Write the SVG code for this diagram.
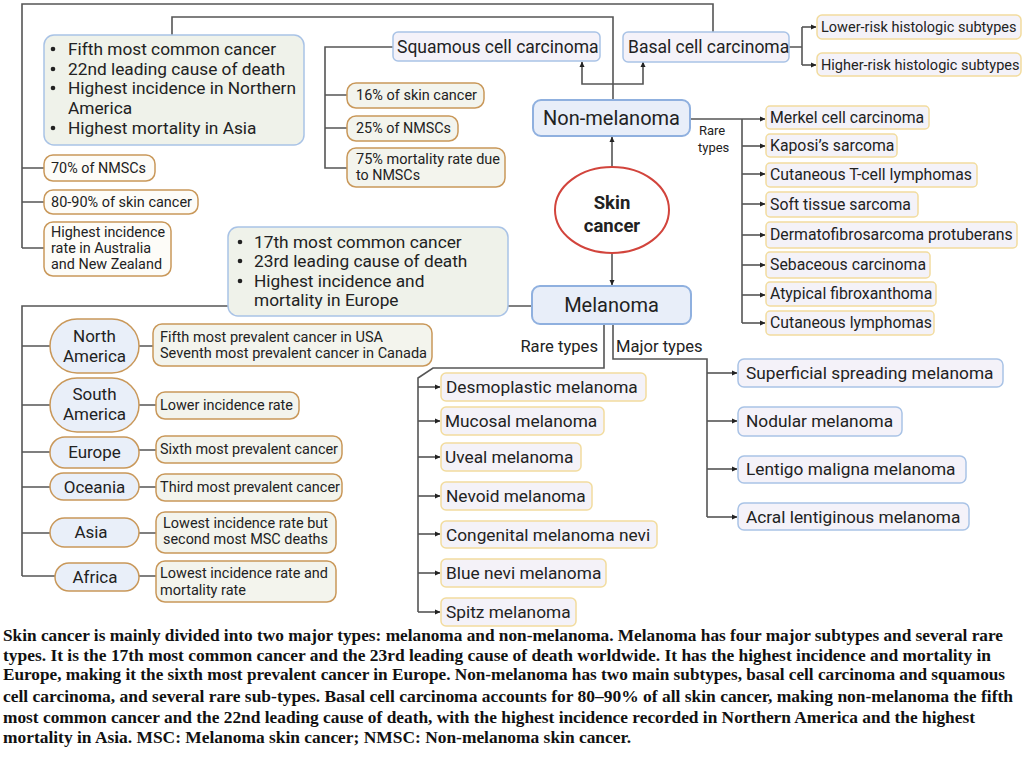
<svg xmlns="http://www.w3.org/2000/svg" width="1024" height="759" viewBox="0 0 1024 759">
<defs>
<marker id="ah" markerWidth="6" markerHeight="6" refX="5" refY="3" orient="auto" markerUnits="userSpaceOnUse">
<path d="M0,0.5 L5.5,3 L0,5.5 Z" fill="#222"/>
</marker>
<style>
.t{font-family:Roboto,"Liberation Sans",sans-serif;fill:#222}
.s{font-size:14px}
.cap{font-family:"Liberation Serif","Times New Roman",serif;font-weight:bold;font-size:16px;fill:#111}
.ln{fill:none;stroke:#555;stroke-width:1.6}
.ar{fill:none;stroke:#555;stroke-width:1.6;marker-end:url(#ah)}
.main{fill:#e8eef9;stroke:#8fb0df;stroke-width:2}
.blue{fill:#f4f2f9;stroke:#a9c3e6;stroke-width:1.5}
.bul{fill:#eff2ea;stroke:#a9c3e6;stroke-width:1.5}
.tan{fill:#fdfcf8;stroke:#c9985a;stroke-width:1.5}
.tang{fill:#f3f4ed;stroke:#c9985a;stroke-width:1.5}
.pill{fill:#e9eff9;stroke:#c9985a;stroke-width:1.5}
.yel{fill:#f4f2f8;stroke:#f2dc9e;stroke-width:1.5}
</style>
</defs>
<rect width="1024" height="759" fill="#ffffff"/>

<g id="connectors">
<path class="ln" d="M22,248 V4 H713 V32"/>
<path class="ln" d="M22,168 H44 M22,202 H44 M22,248 H44"/>
<path class="ln" d="M613,100 V17 H172 V35"/>
<path class="ln" d="M393,47 H325 V168 H347 M325,95 H347 M325,128 H347"/>
<path class="ar" d="M613,84 H582 V62"/>
<path class="ar" d="M613,84 H643 V62"/>
<path class="ar" d="M612,168 V137"/>
<path class="ln" d="M789,47 H802 M802,27 V65"/>
<path class="ar" d="M802,27 H816"/>
<path class="ar" d="M802,65 H816"/>
<path class="ar" d="M690,119 H765"/>
<path class="ln" d="M742,119 V323"/>
<path class="ar" d="M742,146 H765"/>
<path class="ar" d="M742,174 H765"/>
<path class="ar" d="M742,204 H765"/>
<path class="ar" d="M742,235 H765"/>
<path class="ar" d="M742,265 H765"/>
<path class="ar" d="M742,295 H765"/>
<path class="ar" d="M742,323 H765"/>
<path class="ar" d="M612,253 V285"/>
<path class="ln" d="M532,306 H22 V576"/>
<path class="ln" d="M22,346 H50 M22,405 H50 M22,452 H50 M22,487 H50 M22,533 H50 M22,576 H55"/>
<path class="ln" d="M139,346 H153 M139,405 H156 M139,450 H156 M139,487 H156 M139,533 H156 M139,576 H156"/>
<path class="ln" d="M604,324 V368 H433 L418,378 V612"/>
<path class="ar" d="M418,387 H440"/>
<path class="ar" d="M418,421 H440"/>
<path class="ar" d="M418,457 H440"/>
<path class="ar" d="M418,496 H440"/>
<path class="ar" d="M418,534 H440"/>
<path class="ar" d="M418,573 H440"/>
<path class="ar" d="M418,612 H440"/>
<path class="ln" d="M613,324 V359 H707 V517"/>
<path class="ar" d="M707,373 H737"/>
<path class="ar" d="M707,421 H737"/>
<path class="ar" d="M707,469 H737"/>
<path class="ar" d="M707,517 H737"/>
</g>

<g id="skin-cancer">
<ellipse cx="612" cy="210" rx="57" ry="43" fill="#ffffff" stroke="#d2443c" stroke-width="2"/>
<text class="t" x="612" y="209" text-anchor="middle" font-size="18.5" font-weight="bold">Skin</text>
<text class="t" x="612" y="232" text-anchor="middle" font-size="18.5" font-weight="bold">cancer</text>
</g>

<g id="non-melanoma">
<rect class="main" x="533" y="100" width="157" height="36" rx="8"/>
<text class="t" x="611.5" y="125" text-anchor="middle" font-size="20">Non-melanoma</text>
</g>
<text class="t" x="699" y="135" font-size="13">Rare</text>
<text class="t" x="698" y="152" font-size="13">types</text>

<g id="melanoma">
<rect class="main" x="532" y="286" width="159" height="38" rx="8"/>
<text class="t" x="611.5" y="312" text-anchor="middle" font-size="20">Melanoma</text>
</g>
<text class="t" x="598" y="352" text-anchor="end" font-size="16.6">Rare types</text>
<text class="t" x="616" y="352" font-size="16.6">Major types</text>

<g id="squamous">
<rect class="blue" x="393" y="32" width="207" height="29" rx="5"/>
<text class="t" x="397" y="53" font-size="17.5">Squamous cell carcinoma</text>
</g>
<g id="basal">
<rect class="blue" x="623" y="32" width="166" height="30" rx="5"/>
<text class="t" x="628" y="53" font-size="17.5">Basal cell carcinoma</text>
</g>
<g id="lower-risk">
<rect class="yel" x="817" y="15" width="204" height="24" rx="5"/>
<text class="t" x="821" y="32" font-size="14.5">Lower-risk histologic subtypes</text>
</g>
<g id="higher-risk">
<rect class="yel" x="817" y="53" width="204" height="23" rx="5"/>
<text class="t" x="821" y="69.5" font-size="14.5">Higher-risk histologic subtypes</text>
</g>

<g id="nm-facts">
<rect class="bul" x="44" y="35" width="260" height="110" rx="10"/>
<g class="t" font-size="17.3">
<circle cx="53" cy="49" r="2.3" fill="#222"/>
<text x="68" y="55">Fifth most common cancer</text>
<circle cx="53" cy="69" r="2.3" fill="#222"/>
<text x="68" y="75">22nd leading cause of death</text>
<circle cx="53" cy="88" r="2.3" fill="#222"/>
<text x="68" y="94">Highest incidence in Northern</text>
<text x="68" y="114">America</text>
<circle cx="53" cy="128" r="2.3" fill="#222"/>
<text x="68" y="134">Highest mortality in Asia</text>
</g>
</g>

<g id="bcc-70">
<rect class="tan" x="44" y="155" width="111" height="26" rx="9"/>
<text class="t s" x="51" y="173" textLength="95" lengthAdjust="spacingAndGlyphs">70% of NMSCs</text>
</g>
<g id="bcc-80">
<rect class="tan" x="44" y="190" width="154" height="24" rx="9"/>
<text class="t s" x="51" y="207" textLength="141" lengthAdjust="spacingAndGlyphs">80-90% of skin cancer</text>
</g>
<g id="bcc-aus">
<rect class="tan" x="44" y="222" width="127" height="54" rx="9"/>
<text class="t s" x="51" y="237" textLength="114" lengthAdjust="spacingAndGlyphs">Highest incidence</text>
<text class="t s" x="51" y="253" textLength="100" lengthAdjust="spacingAndGlyphs">rate in Australia</text>
<text class="t s" x="51" y="269" textLength="111" lengthAdjust="spacingAndGlyphs">and New Zealand</text>
</g>

<g id="scc-16">
<rect class="tang" x="347" y="83" width="137" height="25" rx="9"/>
<text class="t s" x="356" y="100" textLength="121" lengthAdjust="spacingAndGlyphs">16% of skin cancer</text>
</g>
<g id="scc-25">
<rect class="tang" x="347" y="116" width="111" height="25" rx="9"/>
<text class="t s" x="356" y="133" textLength="95" lengthAdjust="spacingAndGlyphs">25% of NMSCs</text>
</g>
<g id="scc-75">
<rect class="tang" x="347" y="148" width="158" height="39" rx="9"/>
<text class="t s" x="356" y="164" textLength="144" lengthAdjust="spacingAndGlyphs">75% mortality rate due</text>
<text class="t s" x="356" y="180" textLength="64" lengthAdjust="spacingAndGlyphs">to NMSCs</text>
</g>

<g id="nm-rare">
<rect class="yel" x="766" y="106" width="163" height="23" rx="4"/>
<text class="t" x="770" y="123" font-size="15.8">Merkel cell carcinoma</text>
<rect class="yel" x="766" y="134" width="131" height="23" rx="4"/>
<text class="t" x="770" y="151" font-size="15.8">Kaposi’s sarcoma</text>
<rect class="yel" x="766" y="163" width="211" height="24" rx="4"/>
<text class="t" x="770" y="180" font-size="15.8">Cutaneous T-cell lymphomas</text>
<rect class="yel" x="766" y="192" width="152" height="25" rx="4"/>
<text class="t" x="770" y="210" font-size="15.8">Soft tissue sarcoma</text>
<rect class="yel" x="766" y="222" width="251" height="26" rx="4"/>
<text class="t" x="770" y="240" font-size="15.8">Dermatofibrosarcoma protuberans</text>
<rect class="yel" x="766" y="252" width="164" height="26" rx="4"/>
<text class="t" x="770" y="270" font-size="15.8">Sebaceous carcinoma</text>
<rect class="yel" x="766" y="282" width="170" height="24" rx="4"/>
<text class="t" x="770" y="299" font-size="15.8">Atypical fibroxanthoma</text>
<rect class="yel" x="766" y="311" width="168" height="24" rx="4"/>
<text class="t" x="770" y="328" font-size="15.8">Cutaneous lymphomas</text>
</g>

<g id="mel-facts">
<rect class="bul" x="228" y="227" width="280" height="89" rx="10"/>
<g class="t" font-size="17.3">
<circle cx="240" cy="242" r="2.3" fill="#222"/>
<text x="254" y="248">17th most common cancer</text>
<circle cx="240" cy="261" r="2.3" fill="#222"/>
<text x="254" y="267">23rd leading cause of death</text>
<circle cx="240" cy="281" r="2.3" fill="#222"/>
<text x="254" y="287">Highest incidence and</text>
<text x="254" y="306">mortality in Europe</text>
</g>
</g>

<g id="north-america">
<rect class="pill" x="50" y="319" width="89" height="54" rx="27"/>
<text class="t" x="94.5" y="342" text-anchor="middle" font-size="17">North</text>
<text class="t" x="94.5" y="362" text-anchor="middle" font-size="17">America</text>
<rect class="tang" x="153" y="324" width="279" height="42" rx="9"/>
<text class="t s" x="160" y="342" textLength="223" lengthAdjust="spacingAndGlyphs">Fifth most prevalent cancer in USA</text>
<text class="t s" x="160" y="358" textLength="267" lengthAdjust="spacingAndGlyphs">Seventh most prevalent cancer in Canada</text>
</g>
<g id="south-america">
<rect class="pill" x="50" y="378" width="89" height="54" rx="27"/>
<text class="t" x="94.5" y="400" text-anchor="middle" font-size="17">South</text>
<text class="t" x="94.5" y="420" text-anchor="middle" font-size="17">America</text>
<rect class="tang" x="156" y="392" width="143" height="27" rx="9"/>
<text class="t s" x="160" y="410" textLength="133" lengthAdjust="spacingAndGlyphs">Lower incidence rate</text>
</g>
<g id="europe">
<rect class="pill" x="50" y="437" width="89" height="31" rx="15"/>
<text class="t" x="94.5" y="458" text-anchor="middle" font-size="17">Europe</text>
<rect class="tang" x="156" y="436" width="186" height="27" rx="9"/>
<text class="t s" x="160" y="454" textLength="178" lengthAdjust="spacingAndGlyphs">Sixth most prevalent cancer</text>
</g>
<g id="oceania">
<rect class="pill" x="50" y="473" width="89" height="27" rx="13.5"/>
<text class="t" x="94.5" y="493" text-anchor="middle" font-size="17">Oceania</text>
<rect class="tang" x="156" y="474" width="186" height="27" rx="9"/>
<text class="t s" x="160" y="492" textLength="180" lengthAdjust="spacingAndGlyphs">Third most prevalent cancer</text>
</g>
<g id="asia">
<rect class="pill" x="50" y="518" width="89" height="29" rx="14.5"/>
<text class="t" x="91" y="538" text-anchor="middle" font-size="17">Asia</text>
<rect class="tang" x="156" y="512" width="180" height="41" rx="9"/>
<text class="t s" x="163" y="528" textLength="165" lengthAdjust="spacingAndGlyphs">Lowest incidence rate but</text>
<text class="t s" x="163" y="544" textLength="165" lengthAdjust="spacingAndGlyphs">second most MSC deaths</text>
</g>
<g id="africa">
<rect class="pill" x="55" y="563" width="84" height="28" rx="14"/>
<text class="t" x="95" y="583" text-anchor="middle" font-size="17">Africa</text>
<rect class="tang" x="156" y="561" width="180" height="41" rx="9"/>
<text class="t s" x="160" y="578" textLength="168" lengthAdjust="spacingAndGlyphs">Lowest incidence rate and</text>
<text class="t s" x="160" y="595" textLength="86" lengthAdjust="spacingAndGlyphs">mortality rate</text>
</g>

<g id="mel-rare">
<rect class="yel" x="441" y="373" width="205" height="28" rx="5"/>
<text class="t" x="446" y="393" font-size="17.3">Desmoplastic melanoma</text>
<rect class="yel" x="441" y="407" width="163" height="28" rx="5"/>
<text class="t" x="445" y="427" font-size="17.3">Mucosal melanoma</text>
<rect class="yel" x="441" y="443" width="140" height="28" rx="5"/>
<text class="t" x="445" y="463" font-size="17.3">Uveal melanoma</text>
<rect class="yel" x="441" y="482" width="151" height="28" rx="5"/>
<text class="t" x="446" y="502" font-size="17.3">Nevoid melanoma</text>
<rect class="yel" x="441" y="521" width="216" height="27" rx="5"/>
<text class="t" x="446" y="541" font-size="17.3">Congenital melanoma nevi</text>
<rect class="yel" x="441" y="559" width="165" height="28" rx="5"/>
<text class="t" x="446" y="579" font-size="17.3">Blue nevi melanoma</text>
<rect class="yel" x="441" y="598" width="135" height="28" rx="5"/>
<text class="t" x="446" y="618" font-size="17.3">Spitz melanoma</text>
</g>

<g id="mel-major">
<rect class="blue" x="738" y="359" width="265" height="28" rx="6"/>
<text class="t" x="746" y="379" font-size="17.3">Superficial spreading melanoma</text>
<rect class="blue" x="738" y="407" width="164" height="29" rx="6"/>
<text class="t" x="746" y="427" font-size="17.3">Nodular melanoma</text>
<rect class="blue" x="738" y="456" width="228" height="27" rx="6"/>
<text class="t" x="746" y="475" font-size="17.3">Lentigo maligna melanoma</text>
<rect class="blue" x="738" y="503" width="231" height="27" rx="6"/>
<text class="t" x="746" y="523" font-size="17.3">Acral lentiginous melanoma</text>
</g>

<g id="caption">
<text class="cap" x="3" y="641" textLength="1000" lengthAdjust="spacingAndGlyphs">Skin cancer is mainly divided into two major types: melanoma and non-melanoma. Melanoma has four major subtypes and several rare</text>
<text class="cap" x="3" y="661" textLength="988" lengthAdjust="spacingAndGlyphs">types. It is the 17th most common cancer and the 23rd leading cause of death worldwide. It has the highest incidence and mortality in</text>
<text class="cap" x="3" y="680" textLength="1002" lengthAdjust="spacingAndGlyphs">Europe, making it the sixth most prevalent cancer in Europe. Non-melanoma has two main subtypes, basal cell carcinoma and squamous</text>
<text class="cap" x="3" y="702" textLength="1010" lengthAdjust="spacingAndGlyphs">cell carcinoma, and several rare sub-types. Basal cell carcinoma accounts for 80–90% of all skin cancer, making non-melanoma the fifth</text>
<text class="cap" x="3" y="723" textLength="972" lengthAdjust="spacingAndGlyphs">most common cancer and the 22nd leading cause of death, with the highest incidence recorded in Northern America and the highest</text>
<text class="cap" x="3" y="743" textLength="628" lengthAdjust="spacingAndGlyphs">mortality in Asia. MSC: Melanoma skin cancer; NMSC: Non-melanoma skin cancer.</text>
</g>
</svg>
